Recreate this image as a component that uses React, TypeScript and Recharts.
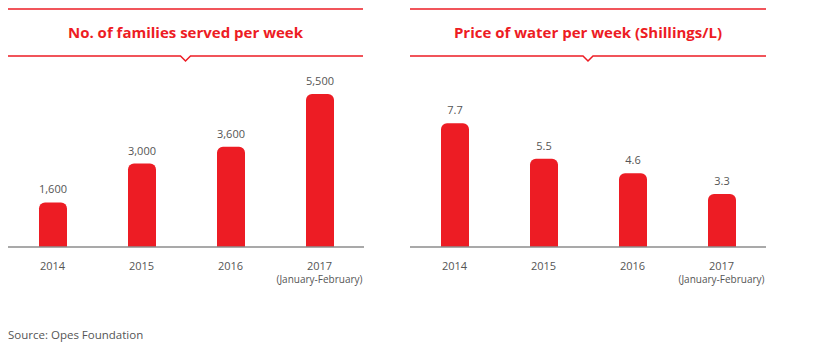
import React from "react";
import { Bar, BarChart, LabelList, XAxis, YAxis } from "recharts";

const years = ["2014", "2015", "2016", "2017"];
const yearNotes = ["", "", "", "(January-February)"];
const familiesServed = [1600, 3000, 3600, 5500];
const waterPrice = [7.7, 5.5, 4.6, 3.3];

const RED = "#ed1c24";
const FONT = "'Open Sans', 'DejaVu Sans', sans-serif";

const familiesData = years.map((y, i) => ({ year: y, note: yearNotes[i], value: familiesServed[i] }));
const priceData = years.map((y, i) => ({ year: y, note: yearNotes[i], value: waterPrice[i] }));

function YearTick(props: any) {
    const { x, y, payload, index } = props;
    const note = yearNotes[index];
    return (
        <g transform={`translate(${x},${y})`}>
            <text x={0} y={15} textAnchor="middle" fill="#555" fontSize={11} fontFamily={FONT}>
                {payload.value}
            </text>
            {note && (
                <text x={0} y={28} textAnchor="middle" fill="#555" fontSize={10} fontFamily={FONT}>
                    {note}
                </text>
            )}
        </g>
    );
}

function Header({ title, left, width }: { title: string; left: number; width: number }) {
    const mid = width / 2;
    return (
        <div style={{ position: "absolute", left, top: 0, width, height: 64 }}>
            <svg width={width} height={64} style={{ position: "absolute", left: 0, top: 0 }}>
                <line x1={0} y1={9} x2={width} y2={9} stroke={RED} strokeWidth={1.5} />
                <polyline
                    points={`0,56 ${mid - 5},56 ${mid},61 ${mid + 5},56 ${width},56`}
                    fill="none"
                    stroke={RED}
                    strokeWidth={1.5}
                />
            </svg>
            <div
                style={{
                    position: "absolute",
                    left: 0,
                    top: 22,
                    width,
                    textAlign: "center",
                    color: RED,
                    fontFamily: FONT,
                    fontWeight: 700,
                    fontSize: 15,
                }}
            >
                {title}
            </div>
        </div>
    );
}

function Panel({ data, domain, format }: { data: any[]; domain: [number, number]; format: (v: number) => string }) {
    return (
        <BarChart width={370} height={300} data={data} margin={{ top: 80, right: 6, left: 8, bottom: 0 }}>
            <YAxis hide domain={domain} />
            <XAxis
                dataKey="year"
                height={53}
                tick={<YearTick />}
                tickLine={false}
                axisLine={{ stroke: "#8c8c8c", strokeWidth: 1.5 }}
                interval={0}
            />
            <Bar dataKey="value" fill={RED} barSize={28} radius={[6, 6, 0, 0]} isAnimationActive={false}>
                <LabelList
                    dataKey="value"
                    position="top"
                    offset={9}
                    formatter={(v: any) => format(Number(v))}
                    style={{ fill: "#555", fontSize: 11, fontFamily: FONT }}
                />
            </Bar>
        </BarChart>
    );
}

export default function App() {
    return (
        <div style={{ position: "relative", width: 833, height: 362, background: "#fff", margin: -8 }}>
            <Header title="No. of families served per week" left={8} width={355} />
            <Header title="Price of water per week (Shillings/L)" left={410} width={356} />
            <div style={{ position: "absolute", left: 0, top: 0 }}>
                <Panel data={familiesData} domain={[0, 6000]} format={(v) => v.toLocaleString("en-US")} />
            </div>
            <div style={{ position: "absolute", left: 402, top: 0 }}>
                <Panel data={priceData} domain={[0, 10.4]} format={(v) => v.toFixed(1)} />
            </div>
            <div
                style={{
                    position: "absolute",
                    left: 8,
                    top: 327,
                    color: "#555",
                    fontFamily: FONT,
                    fontSize: 11.5,
                }}
            >
                Source: Opes Foundation
            </div>
        </div>
    );
}
